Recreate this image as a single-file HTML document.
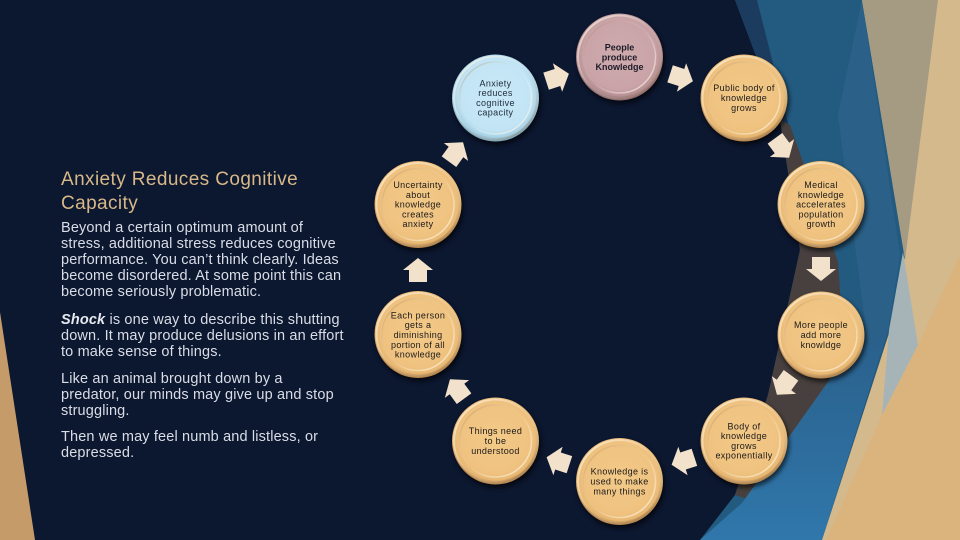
<!DOCTYPE html>
<html>
<head>
<meta charset="utf-8">
<style>
  html,body{margin:0;padding:0;}
  body{width:960px;height:540px;overflow:hidden;background:#0c1730;position:relative;font-family:"Liberation Sans",sans-serif;}
  svg{position:absolute;left:0;top:0;}
  .title{position:absolute;left:61px;top:168px;color:#d8b888;font-size:19px;line-height:23.5px;letter-spacing:0.4px;white-space:nowrap;}
  .p{position:absolute;left:61px;color:#d9dde6;font-size:14.5px;line-height:16px;letter-spacing:0.15px;white-space:nowrap;}
  .p b{color:#e6e9ef;}
</style>
</head>
<body>
<svg width="960" height="540" viewBox="0 0 960 540" xmlns="http://www.w3.org/2000/svg">
  <defs>
    <radialGradient id="gold" cx="50%" cy="46%" r="52%">
      <stop offset="0" stop-color="#f3ca88"/>
      <stop offset="0.8" stop-color="#efc280"/>
      <stop offset="0.94" stop-color="#e8b872"/>
      <stop offset="1" stop-color="#b8864a"/>
    </radialGradient>
    <radialGradient id="blue" cx="50%" cy="46%" r="52%">
      <stop offset="0" stop-color="#c9e9f7"/>
      <stop offset="0.8" stop-color="#c2e4f4"/>
      <stop offset="0.94" stop-color="#a9d3e6"/>
      <stop offset="1" stop-color="#7fa9bd"/>
    </radialGradient>
    <radialGradient id="mauve" cx="50%" cy="46%" r="52%">
      <stop offset="0" stop-color="#cfabae"/>
      <stop offset="0.8" stop-color="#c9a3a7"/>
      <stop offset="0.94" stop-color="#b68f93"/>
      <stop offset="1" stop-color="#8d6a6e"/>
    </radialGradient>
    <linearGradient id="rimHi" x1="0" y1="0" x2="1" y2="1">
      <stop offset="0" stop-color="#fff3d8" stop-opacity="0.8"/>
      <stop offset="0.5" stop-color="#ffffff" stop-opacity="0.15"/>
      <stop offset="1" stop-color="#7a5424" stop-opacity="0.5"/>
    </linearGradient>
    <linearGradient id="innerRing" x1="0" y1="0" x2="1" y2="1">
      <stop offset="0" stop-color="#8a5f2a" stop-opacity="0.4"/>
      <stop offset="0.5" stop-color="#ffffff" stop-opacity="0.05"/>
      <stop offset="1" stop-color="#fff6e0" stop-opacity="0.8"/>
    </linearGradient>
    <linearGradient id="lowblue" x1="0" y1="0" x2="0" y2="1">
      <stop offset="0" stop-color="#2a5f8a"/>
      <stop offset="1" stop-color="#3077ab"/>
    </linearGradient>
    <filter id="sh" x="-30%" y="-30%" width="160%" height="160%">
      <feGaussianBlur stdDeviation="2.2"/>
    </filter>
    <symbol id="arrow" overflow="visible">
      <path d="M-12,-9 L0,-9 L0,-15 L12,0 L0,15 L0,9 L-12,9 Z" fill="#f3e2cb"/>
    </symbol>
  </defs>

  <rect width="960" height="540" fill="#0c1730"/>
  <polygon points="0,312 35,540 0,540" fill="#c59c69"/>

  <polygon points="735,0 870,0 905,255 890,330 822,540 700,540 735,495 768,395 800,250 780,120" fill="#235a80"/>
  <polygon points="735,0 757,0 795,150 800,250 780,120" fill="#1c3c5f"/>
  <polygon points="862,0 900,255 888,330 872,375 838,115" fill="#2b6188"/>
  <polygon points="780,120 790,125 838,262 845,362 800,425 750,500 735,495 768,395 800,250" fill="#47403e"/>
  <polygon points="842,362 888,330 822,540 700,540 742,503" fill="url(#lowblue)"/>
  <polygon points="862,0 960,0 960,540 822,540 890,330 905,255" fill="#d4b98d"/>
  <polygon points="862,0 938,0 905,260" fill="#a59b83"/>
  <polygon points="903,252 918,345 882,415 889,330" fill="#a6b4b7"/>
  <polygon points="960,255 960,540 826,540 882,415 918,345" fill="#dab37d"/>

  <g>
    <use href="#arrow" transform="translate(557.5,77.5) rotate(-18)"/>
    <use href="#arrow" transform="translate(681.5,77.5) rotate(18)"/>
    <use href="#arrow" transform="translate(782,148) rotate(54)"/>
    <use href="#arrow" transform="translate(821,269) rotate(90)"/>
    <use href="#arrow" transform="translate(784,385) rotate(126)"/>
    <use href="#arrow" transform="translate(683,461) rotate(162)"/>
    <use href="#arrow" transform="translate(558,461) rotate(198)"/>
    <use href="#arrow" transform="translate(457,389) rotate(234)"/>
    <use href="#arrow" transform="translate(418,270) rotate(270)"/>
    <use href="#arrow" transform="translate(456,152) rotate(306)"/>
  </g>

  <g id="circles">
    <g transform="translate(619.5,57)">
      <circle cx="1.5" cy="3" r="44" fill="#000" opacity="0.6" filter="url(#sh)"/>
      <circle r="43.5" fill="url(#mauve)"/>
      <circle r="41.5" fill="none" stroke="url(#rimHi)" stroke-width="2"/>
      <circle r="36" fill="none" stroke="url(#innerRing)" stroke-width="1.5"/>
    </g>
    <g transform="translate(744,98)">
      <circle cx="1.5" cy="3" r="44" fill="#000" opacity="0.6" filter="url(#sh)"/>
      <circle r="43.5" fill="url(#gold)"/>
      <circle r="41.5" fill="none" stroke="url(#rimHi)" stroke-width="2"/>
      <circle r="36" fill="none" stroke="url(#innerRing)" stroke-width="1.5"/>
    </g>
    <g transform="translate(821,204.5)">
      <circle cx="1.5" cy="3" r="44" fill="#000" opacity="0.6" filter="url(#sh)"/>
      <circle r="43.5" fill="url(#gold)"/>
      <circle r="41.5" fill="none" stroke="url(#rimHi)" stroke-width="2"/>
      <circle r="36" fill="none" stroke="url(#innerRing)" stroke-width="1.5"/>
    </g>
    <g transform="translate(821,335)">
      <circle cx="1.5" cy="3" r="44" fill="#000" opacity="0.6" filter="url(#sh)"/>
      <circle r="43.5" fill="url(#gold)"/>
      <circle r="41.5" fill="none" stroke="url(#rimHi)" stroke-width="2"/>
      <circle r="36" fill="none" stroke="url(#innerRing)" stroke-width="1.5"/>
    </g>
    <g transform="translate(744,441)">
      <circle cx="1.5" cy="3" r="44" fill="#000" opacity="0.6" filter="url(#sh)"/>
      <circle r="43.5" fill="url(#gold)"/>
      <circle r="41.5" fill="none" stroke="url(#rimHi)" stroke-width="2"/>
      <circle r="36" fill="none" stroke="url(#innerRing)" stroke-width="1.5"/>
    </g>
    <g transform="translate(619.5,481.5)">
      <circle cx="1.5" cy="3" r="44" fill="#000" opacity="0.6" filter="url(#sh)"/>
      <circle r="43.5" fill="url(#gold)"/>
      <circle r="41.5" fill="none" stroke="url(#rimHi)" stroke-width="2"/>
      <circle r="36" fill="none" stroke="url(#innerRing)" stroke-width="1.5"/>
    </g>
    <g transform="translate(495.5,441)">
      <circle cx="1.5" cy="3" r="44" fill="#000" opacity="0.6" filter="url(#sh)"/>
      <circle r="43.5" fill="url(#gold)"/>
      <circle r="41.5" fill="none" stroke="url(#rimHi)" stroke-width="2"/>
      <circle r="36" fill="none" stroke="url(#innerRing)" stroke-width="1.5"/>
    </g>
    <g transform="translate(418,334.5)">
      <circle cx="1.5" cy="3" r="44" fill="#000" opacity="0.6" filter="url(#sh)"/>
      <circle r="43.5" fill="url(#gold)"/>
      <circle r="41.5" fill="none" stroke="url(#rimHi)" stroke-width="2"/>
      <circle r="36" fill="none" stroke="url(#innerRing)" stroke-width="1.5"/>
    </g>
    <g transform="translate(418,204.5)">
      <circle cx="1.5" cy="3" r="44" fill="#000" opacity="0.6" filter="url(#sh)"/>
      <circle r="43.5" fill="url(#gold)"/>
      <circle r="41.5" fill="none" stroke="url(#rimHi)" stroke-width="2"/>
      <circle r="36" fill="none" stroke="url(#innerRing)" stroke-width="1.5"/>
    </g>
    <g transform="translate(495.5,98)">
      <circle cx="1.5" cy="3" r="44" fill="#000" opacity="0.6" filter="url(#sh)"/>
      <circle r="43.5" fill="url(#blue)"/>
      <circle r="41.5" fill="none" stroke="url(#rimHi)" stroke-width="2"/>
      <circle r="36" fill="none" stroke="url(#innerRing)" stroke-width="1.5"/>
    </g>
  </g>

  <g font-family="Liberation Sans, sans-serif" font-size="9" fill="#1c1a1a" text-anchor="middle" letter-spacing="0.35">
    <g font-weight="bold" fill="#1d1b28" letter-spacing="0">
      <text x="619.5" y="50.5">People</text>
      <text x="619.5" y="60.3">produce</text>
      <text x="619.5" y="70.1">Knowledge</text>
    </g>
    <text x="744" y="91.2">Public body of</text>
    <text x="744" y="101">knowledge</text>
    <text x="744" y="110.8">grows</text>

    <text x="821" y="188">Medical</text>
    <text x="821" y="197.8">knowledge</text>
    <text x="821" y="207.6">accelerates</text>
    <text x="821" y="217.4">population</text>
    <text x="821" y="227.2">growth</text>

    <text x="821" y="328.2">More people</text>
    <text x="821" y="338">add more</text>
    <text x="821" y="347.8">knowldge</text>

    <text x="744" y="429.3">Body of</text>
    <text x="744" y="439.1">knowledge</text>
    <text x="744" y="448.9">grows</text>
    <text x="744" y="458.7">exponentially</text>

    <text x="619.5" y="474.7">Knowledge is</text>
    <text x="619.5" y="484.5">used to make</text>
    <text x="619.5" y="494.3">many things</text>

    <text x="495.5" y="434.2">Things need</text>
    <text x="495.5" y="444">to be</text>
    <text x="495.5" y="453.8">understood</text>

    <text x="418" y="318.4">Each person</text>
    <text x="418" y="328.2">gets a</text>
    <text x="418" y="338">diminishing</text>
    <text x="418" y="347.8">portion of all</text>
    <text x="418" y="357.6">knowledge</text>

    <text x="418" y="188">Uncertainty</text>
    <text x="418" y="197.8">about</text>
    <text x="418" y="207.6">knowledge</text>
    <text x="418" y="217.4">creates</text>
    <text x="418" y="227.2">anxiety</text>

    <g fill="#1e2a3a">
      <text x="495.5" y="86.3">Anxiety</text>
      <text x="495.5" y="96.1">reduces</text>
      <text x="495.5" y="105.9">cognitive</text>
      <text x="495.5" y="115.7">capacity</text>
    </g>
  </g>
</svg>

<div class="title">Anxiety Reduces Cognitive<br>Capacity</div>
<div class="p" style="top:220px;">Beyond a certain optimum amount of<br>stress, additional stress reduces cognitive<br>performance. You can’t think clearly. Ideas<br>become disordered. At some point this can<br>become seriously problematic.</div>
<div class="p" style="top:312px;"><b><i>Shock</i></b> is one way to describe this shutting<br>down. It may produce delusions in an effort<br>to make sense of things.</div>
<div class="p" style="top:371px;">Like an animal brought down by a<br>predator, our minds may give up and stop<br>struggling.</div>
<div class="p" style="top:429px;">Then we may feel numb and listless, or<br>depressed.</div>
</body>
</html>
